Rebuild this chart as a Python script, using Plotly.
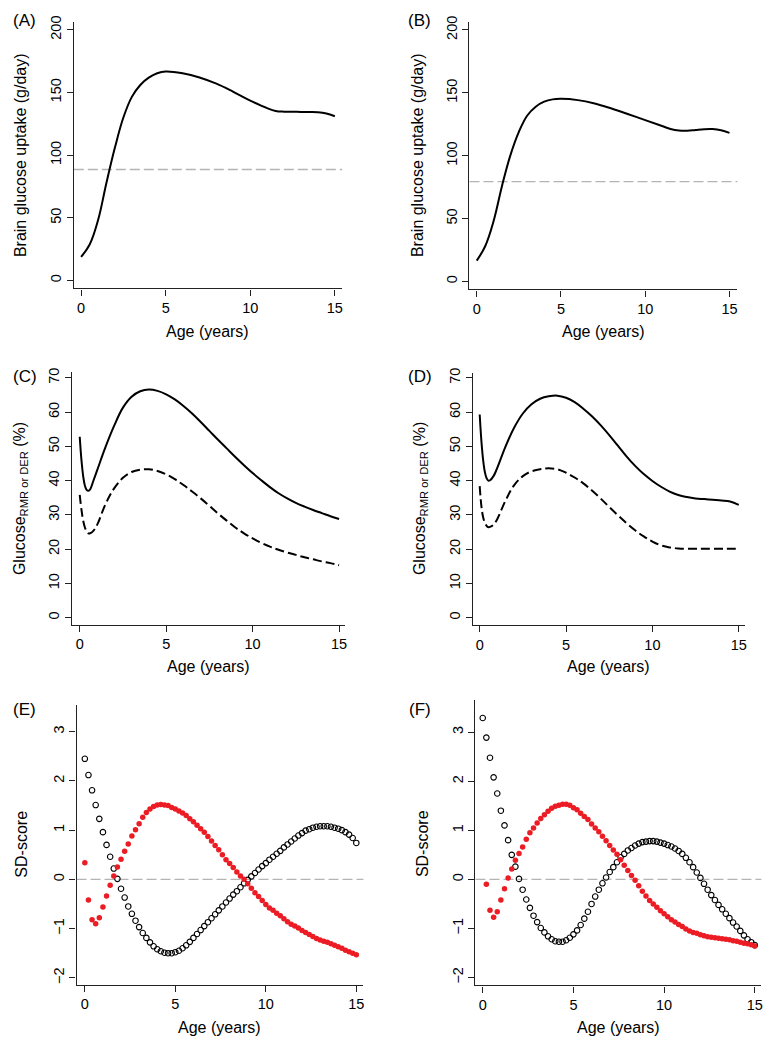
import plotly.graph_objects as go

W, H = 780, 1050

# ---------------- data ----------------
AB_age = [0, 0.5, 1, 1.5, 2, 2.5, 3, 3.5, 4, 4.5, 5, 6, 7, 8, 9, 10, 11, 11.5, 12, 12.5, 13, 13.5, 14, 14.5, 15]
A_uptake = [18.8, 28.5, 48, 78, 106, 130, 146.5, 156, 161.8, 165.3, 166.7, 165.3, 162, 157, 150.5, 143.5, 137.5,
            135.3, 134.7, 134.6, 134.5, 134.4, 134.2, 133.2, 131]
A_ref = 88.5
B_uptake = [16.6, 28, 48, 76, 100.5, 119, 132, 139, 143, 144.8, 145.2, 144.2, 141.5, 137.5, 133, 128.3, 123.6,
            121.3, 120.0, 119.8, 120.5, 121.1, 121.2, 120.3, 118.2]
B_ref = 79.4

CD_age = [0, 0.1, 0.2, 0.3, 0.4, 0.5, 0.6, 0.8, 1.0, 1.5, 2.0, 2.5, 3.0, 3.5, 4.0, 4.5, 5.0, 5.5, 6.0, 6.5,
          7.0, 7.5, 8.0, 8.5, 9.0, 9.5, 10, 10.5, 11, 11.5, 12, 12.5, 13, 13.5, 14, 14.5, 15]
C_rmr = [52.8, 46, 41.3, 38.5, 37.3, 37.0, 37.4, 40.1, 42.9, 49.9, 56.1, 61.3, 64.5, 66.1, 66.6, 66.2, 65.2,
         63.7, 61.8, 59.6, 57.1, 54.5, 51.9, 49.4, 46.9, 44.5, 42.2, 40.1, 38.1, 36.3, 34.8, 33.5, 32.4, 31.4,
         30.5, 29.6, 28.8]
C_der = [35.8, 31.5, 28.3, 26.3, 25.2, 24.6, 24.6, 25.4, 27.0, 33.2, 37.8, 40.8, 42.5, 43.2, 43.3, 42.8, 41.8,
         40.4, 38.7, 36.8, 34.8, 32.6, 30.4, 28.3, 26.3, 24.6, 23.1, 21.8, 20.7, 19.8, 19.0, 18.3, 17.6, 17.0,
         16.4, 15.9, 15.3]
D_rmr = [59.3, 51.5, 46, 42.5, 40.7, 40.0, 40.1, 41.3, 43.5, 50.0, 55.5, 59.6, 62.3, 63.9, 64.6, 64.8, 64.2,
         62.9, 61.0, 58.8, 56.2, 53.3, 50.2, 47.1, 44.3, 41.9, 39.9, 38.2, 36.8, 35.8, 35.2, 34.8, 34.6, 34.4,
         34.2, 33.9, 32.9]
D_der = [38.4, 32.5, 29.3, 27.7, 26.8, 26.4, 26.5, 27.1, 28.6, 34.2, 38.7, 41.3, 42.7, 43.3, 43.6, 43.3, 42.3,
         40.9, 39.2, 37.1, 34.8, 32.3, 29.9, 27.6, 25.5, 23.7, 22.2, 21.1, 20.5, 20.2, 20.1, 20.1, 20.1, 20.1,
         20.1, 20.1, 20.1]

EF_age = [0.0, 0.2, 0.4, 0.6, 0.8, 1.0, 1.2, 1.4, 1.6, 1.8, 2.0, 2.2, 2.4, 2.6, 2.8, 3.0, 3.2, 3.4, 3.6, 3.8,
          4.0, 4.2, 4.4, 4.6, 4.8, 5.0, 5.2, 5.4, 5.6, 5.8, 6.0, 6.2, 6.4, 6.6, 6.8, 7.0, 7.2, 7.4, 7.6, 7.8,
          8.0, 8.2, 8.4, 8.6, 8.8, 9.0, 9.2, 9.4, 9.6, 9.8, 10.0, 10.2, 10.4, 10.6, 10.8, 11.0, 11.2, 11.4, 11.6,
          11.8, 12.0, 12.2, 12.4, 12.6, 12.8, 13.0, 13.2, 13.4, 13.6, 13.8, 14.0, 14.2, 14.4, 14.6, 14.8, 15.0]
E_black = [2.45, 2.12, 1.81, 1.51, 1.23, 0.96, 0.70, 0.46, 0.22, 0.01, -0.19, -0.37, -0.55, -0.70, -0.84, -0.97,
           -1.09, -1.19, -1.28, -1.36, -1.42, -1.46, -1.49, -1.50, -1.50, -1.48, -1.45, -1.40, -1.34, -1.27,
           -1.19, -1.11, -1.03, -0.95, -0.87, -0.79, -0.71, -0.63, -0.55, -0.47, -0.39, -0.31, -0.24, -0.16,
           -0.08, -0.01, 0.06, 0.13, 0.20, 0.27, 0.33, 0.40, 0.46, 0.52, 0.58, 0.65, 0.71, 0.77, 0.83, 0.89,
           0.94, 0.99, 1.02, 1.05, 1.07, 1.08, 1.08, 1.08, 1.07, 1.05, 1.03, 1.00, 0.96, 0.91, 0.84, 0.74]
E_red = [0.34, -0.42, -0.82, -0.90, -0.78, -0.56, -0.34, -0.12, 0.07, 0.25, 0.41, 0.57, 0.72, 0.88, 1.01, 1.13,
         1.26, 1.36, 1.43, 1.48, 1.51, 1.52, 1.51, 1.50, 1.46, 1.43, 1.39, 1.35, 1.30, 1.23, 1.17, 1.10, 1.03,
         0.96, 0.87, 0.78, 0.69, 0.60, 0.50, 0.40, 0.32, 0.24, 0.15, 0.07, 0.00, -0.09, -0.18, -0.27, -0.35,
         -0.43, -0.51, -0.58, -0.63, -0.69, -0.74, -0.80, -0.86, -0.91, -0.95, -0.99, -1.04, -1.08, -1.12,
         -1.16, -1.20, -1.23, -1.26, -1.28, -1.31, -1.34, -1.37, -1.40, -1.44, -1.47, -1.50, -1.53]
F_black = [3.29, 2.89, 2.48, 2.08, 1.75, 1.40, 1.10, 0.80, 0.50, 0.26, 0.01, -0.21, -0.41, -0.58, -0.74, -0.87,
           -0.99, -1.08, -1.16, -1.22, -1.26, -1.27, -1.27, -1.24, -1.19, -1.12, -1.04, -0.93, -0.80, -0.66,
           -0.50, -0.35, -0.21, -0.08, 0.04, 0.15, 0.25, 0.35, 0.45, 0.52, 0.59, 0.64, 0.69, 0.73, 0.76, 0.77,
           0.78, 0.78, 0.77, 0.75, 0.73, 0.70, 0.67, 0.63, 0.58, 0.52, 0.44, 0.35, 0.25, 0.14, 0.03, -0.09,
           -0.21, -0.32, -0.42, -0.52, -0.61, -0.70, -0.79, -0.88, -0.96, -1.05, -1.14, -1.22, -1.28, -1.34]
F_red = [None, -0.10, -0.63, -0.77, -0.66, -0.42, -0.19, 0.03, 0.21, 0.39, 0.53, 0.66, 0.82, 0.95, 1.05, 1.15,
         1.24, 1.32, 1.39, 1.45, 1.49, 1.51, 1.53, 1.53, 1.51, 1.46, 1.42, 1.35, 1.28, 1.22, 1.13, 1.05, 0.97,
         0.88, 0.79, 0.69, 0.60, 0.51, 0.40, 0.29, 0.18, 0.08, -0.02, -0.13, -0.24, -0.34, -0.43, -0.50,
         -0.57, -0.64, -0.70, -0.76, -0.82, -0.87, -0.92, -0.96, -1.01, -1.05, -1.08, -1.10, -1.13, -1.15,
         -1.17, -1.18, -1.19, -1.20, -1.21, -1.22, -1.23, -1.25, -1.26, -1.28, -1.30, -1.31, -1.33, -1.36]

x_ticks = [0, 5, 10, 15]
ab_ticks = [0, 50, 100, 150, 200]
cd_ticks = [0, 10, 20, 30, 40, 50, 60, 70]
ef_ticks = [-2, -1, 0, 1, 2, 3]
ef_labels = ["\u22122", "\u22121", "0", "1", "2", "3"]

# ---------------- layout geometry (pixels) ----------------
panels = {
    1: dict(l=74, r=343, t=16, b=284, xr=[-0.43, 15.43], yr=[-6.3, 206.3]),
    2: dict(l=470.7, r=739.3, t=16, b=285, xr=[-0.43, 15.47], yr=[-6.3, 206.4]),
    3: dict(l=72.3, r=346, t=368.3, b=622.3, xr=[-0.44, 15.35], yr=[-2.1, 71.65]),
    4: dict(l=474, r=746.7, t=369, b=622.7, xr=[-0.40, 15.35], yr=[-2.2, 71.45]),
    5: dict(l=76.7, r=364.3, t=702.7, b=984.3, xr=[-0.46, 15.39], yr=[-2.14, 3.55]),
    6: dict(l=476.7, r=763.3, t=698.3, b=985, xr=[-0.40, 15.36], yr=[-2.16, 3.65]),
}

FONT = "Liberation Sans, Arial, Helvetica, sans-serif"
fig = go.Figure()

def ax(i):
    return ("x" if i == 1 else f"x{i}"), ("y" if i == 1 else f"y{i}")

# curves
for i, age, vals in [(1, AB_age, A_uptake), (2, AB_age, B_uptake)]:
    xa, ya = ax(i)
    fig.add_trace(go.Scatter(x=age, y=vals, mode="lines",
                             line=dict(color="black", width=2, shape="spline", smoothing=1.1),
                             xaxis=xa, yaxis=ya, showlegend=False))
for i, s, d in [(3, C_rmr, C_der), (4, D_rmr, D_der)]:
    xa, ya = ax(i)
    fig.add_trace(go.Scatter(x=CD_age, y=s, mode="lines",
                             line=dict(color="black", width=2, shape="spline", smoothing=1.1),
                             xaxis=xa, yaxis=ya, showlegend=False))
    fig.add_trace(go.Scatter(x=CD_age, y=d, mode="lines",
                             line=dict(color="black", width=2, dash="9px,4px", shape="spline", smoothing=1.1),
                             xaxis=xa, yaxis=ya, showlegend=False))
for i, blk, red in [(5, E_black, E_red), (6, F_black, F_red)]:
    xa, ya = ax(i)
    fig.add_trace(go.Scatter(x=EF_age, y=blk, mode="markers",
                             marker=dict(symbol="circle-open", size=5.5, color="black", line=dict(width=1.1)),
                             xaxis=xa, yaxis=ya, showlegend=False))
    fig.add_trace(go.Scatter(x=EF_age, y=red, mode="markers",
                             marker=dict(symbol="circle", size=5.5, color="#ec1c24", line=dict(width=0)),
                             xaxis=xa, yaxis=ya, showlegend=False))

# reference dashed lines
for i, yv in [(1, A_ref), (2, B_ref), (5, 0), (6, 0)]:
    xa, ya = ax(i)
    fig.add_shape(type="line", xref=f"{xa} domain", yref=ya, x0=0, x1=1, y0=yv, y1=yv,
                  line=dict(color="#b4b4b4", width=1.4, dash="10px,4px"), layer="below")

layout = dict(width=W, height=H, margin=dict(l=0, r=0, t=0, b=0), plot_bgcolor="white",
              paper_bgcolor="white", font=dict(family=FONT, size=14, color="black"))

for i, p in panels.items():
    xkey = "xaxis" if i == 1 else f"xaxis{i}"
    ykey = "yaxis" if i == 1 else f"yaxis{i}"
    xa, ya = ax(i)
    if i in (1, 2):
        tv, tt = ab_ticks, [str(v) for v in ab_ticks]
    elif i in (3, 4):
        tv, tt = cd_ticks, [str(v) for v in cd_ticks]
    else:
        tv, tt = ef_ticks, ef_labels
    layout[xkey] = dict(domain=[p["l"] / W, p["r"] / W], anchor=ya, range=p["xr"],
                        tickmode="array", tickvals=x_ticks, ticktext=[str(v) for v in x_ticks],
                        ticks="outside", ticklen=6, tickwidth=1.2, tickcolor="#222",
                        showline=True, linecolor="#222", linewidth=1.3, showgrid=False, zeroline=False,
                        tickfont=dict(size=14.5), fixedrange=True)
    layout[ykey] = dict(domain=[1 - p["b"] / H, 1 - p["t"] / H], anchor=xa, range=p["yr"],
                        tickmode="array", tickvals=tv, ticktext=tt, tickangle=-90,
                        ticks="outside", ticklen=6, tickwidth=1.2, tickcolor="#222",
                        showline=True, linecolor="#222", linewidth=1.3, showgrid=False, zeroline=False,
                        tickfont=dict(size=14.5), fixedrange=True)

fig.update_layout(**layout)

def ann(text, xp, yp, size=16, angle=0):
    fig.add_annotation(text=text, x=xp / W, y=1 - yp / H, xref="paper", yref="paper",
                       showarrow=False, textangle=angle, font=dict(size=size, family=FONT, color="black"),
                       xanchor="center", yanchor="middle")

# panel letters
for lab, xp, yp in [("(A)", 24.5, 15), ("(B)", 421, 15), ("(C)", 25, 373), ("(D)", 421, 373),
                    ("(E)", 24.5, 708), ("(F)", 421, 708)]:
    ann(lab, xp, yp, size=17)

# x titles
for xp, yp in [(208, 327), (605, 327), (209, 664), (610, 664), (220, 1027), (620, 1027)]:
    ann("Age (years)", xp, yp)

# y titles
ann("Brain glucose uptake (g/day)", 20, 150, angle=-90)
ann("Brain glucose uptake (g/day)", 418, 150, angle=-90)
ann("Glucose<sub>RMR or DER</sub> (%)", 20, 495, angle=-90)
ann("Glucose<sub>RMR or DER</sub> (%)", 421, 495, angle=-90)
ann("SD-score", 21.5, 843, angle=-90)
ann("SD-score", 423, 842, angle=-90)

fig.write_html("out.html", config={"displayModeBar": False},
               post_script="document.body.style.margin='0px';")
